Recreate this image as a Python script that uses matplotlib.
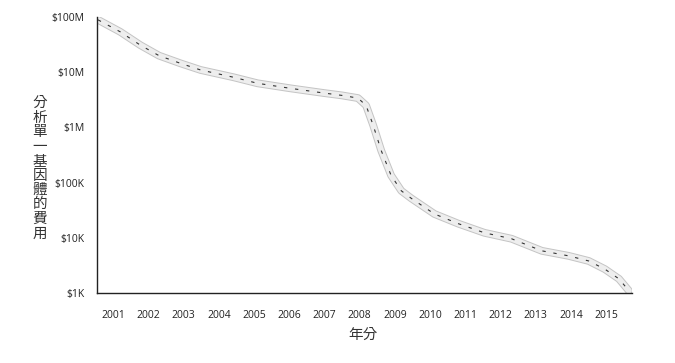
import matplotlib
matplotlib.use("Agg")
import matplotlib.pyplot as plt
import matplotlib.patheffects as pe

plt.rcParams['font.family'] = ['Open Sans', 'Noto Sans CJK TC', 'DejaVu Sans']

# cost per genome (USD)
years = [2000.57, 2001.2, 2001.77, 2002.3, 2002.91, 2003.48, 2004.42, 2005.1,
         2006.04, 2006.98, 2007.5, 2007.95, 2008.18, 2008.38, 2008.61, 2008.89,
         2009.18, 2009.46, 2010.12, 2010.8, 2011.54, 2012.31, 2013.17, 2013.93,
         2014.5, 2014.96, 2015.36, 2015.64]
cost = [8.9e7, 5.4e7, 3.1e7, 2.0e7, 1.45e7, 1.1e7, 8.1e6, 6.3e6,
        5.1e6, 4.2e6, 3.8e6, 3.4e6, 2.5e6, 1.1e6, 3.8e5, 1.35e5,
        7.1e4, 5.2e4, 2.7e4, 1.8e4, 1.23e4, 9.6e3, 5.8e3, 4.7e3,
        3.8e3, 2.7e3, 1.8e3, 1.1e3]

year_ticks = list(range(2001, 2016))
cost_ticks = [1e3, 1e4, 1e5, 1e6, 1e7, 1e8]
cost_labels = ['$1K', '$10K', '$100K', '$1M', '$10M', '$100M']

fig = plt.figure(figsize=(6.75, 3.63), dpi=100)
ax = fig.add_axes([0.1437, 0.193, 0.7926, 0.760])

# ribbon-like line: pale band with grey edges and a dark dashed strand
ax.plot(years, cost, color='#eeeeee', lw=4.2, solid_capstyle='round',
        path_effects=[pe.Stroke(linewidth=5.6, foreground='#c4c4c4'), pe.Normal()])
ax.plot(years, cost, color='#333333', lw=0.8, dashes=(3, 7))

ax.set_yscale('log')
ax.set_ylim(1e3, 1e8)
ax.set_xlim(2000.54, 2015.73)
ax.set_yticks(cost_ticks)
ax.set_yticklabels(cost_labels)
ax.minorticks_off()
ax.set_xticks(year_ticks)
ax.set_xticklabels([str(y) for y in year_ticks])
ax.tick_params(length=0, labelsize=7.5, colors='#222222')
ax.tick_params(axis='x', pad=12)
ax.tick_params(axis='y', pad=9)

for s in ['top', 'right']:
    ax.spines[s].set_visible(False)
for s in ['left', 'bottom']:
    ax.spines[s].set_color('#222222')
    ax.spines[s].set_linewidth(1.0)

fig.text(0.059, 0.535, '\n'.join('分析單一基因體的費用'), ha='center', va='center',
         fontsize=10.5, linespacing=0.95, color='#333333')
fig.text(0.538, 0.075, '年分', ha='center', va='center', fontsize=10.5, color='#333333')

fig.savefig('out.png', dpi=100)
